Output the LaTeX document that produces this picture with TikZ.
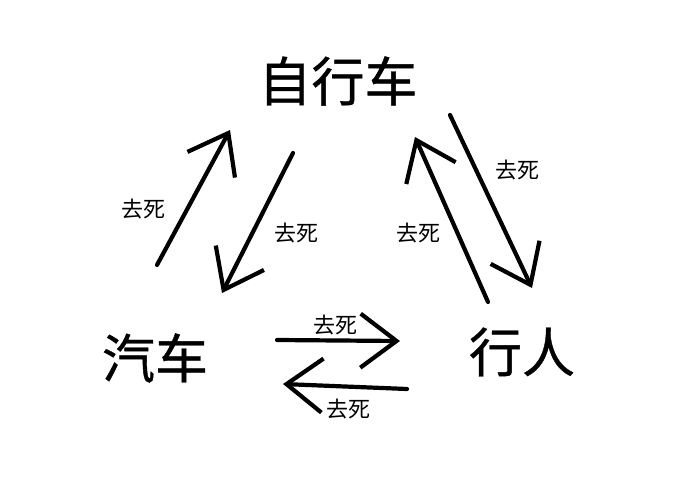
\documentclass[tikz,border=0pt]{standalone}
\usepackage{fontspec}
\setmainfont{Noto Sans CJK SC}
\newfontfamily\namefont{Noto Sans CJK SC}[FakeBold=0.7]
\usetikzlibrary{arrows.meta}

\begin{document}
\begin{tikzpicture}[x=1pt,y=-1pt,
		who/.style={font=\namefont\fontsize{53}{53}\selectfont,inner sep=0pt},
		curse/.style={font=\fontsize{22}{22}\selectfont,inner sep=0pt},
		hit/.style={line width=4.2pt,line cap=round,line join=round,
			-{Straight Barb[length=36pt,width=54pt,line width=4.2pt]}}]
		\useasboundingbox (0,0) rectangle (690,500);
		% the three of them
		\node[who] (bike) at (338,81) {自行车};
		\node[who] (car) at (155,358) {汽车};
		\node[who] (walker) at (522,352) {行人};
		% ends of the arrows
		\coordinate (cb1) at (157,265); \coordinate (cb2) at (230,130);
		\coordinate (bc1) at (293,153); \coordinate (bc2) at (222,293);
		\coordinate (wb1) at (488,302); \coordinate (wb2) at (415,137);
		\coordinate (bw1) at (450,115); \coordinate (bw2) at (532,288);
		\coordinate (cw1) at (277,340); \coordinate (cw2) at (400,341);
		\coordinate (wc1) at (407,389); \coordinate (wc2) at (283,384);
		\draw[hit] (cb1) -- (cb2);
		\draw[hit] (bc1) -- (bc2);
		\draw[hit] (wb1) -- (wb2);
		\draw[hit] (bw1) -- (bw2);
		\draw[hit] (cw1) -- (cw2);
		\draw[hit] (wc1) -- (wc2);
		% labels
		\node[curse] (l1) at (143,209) {去死};
		\node[curse] (l2) at (296,233) {去死};
		\node[curse] (l3) at (418,233) {去死};
		\node[curse] (l4) at (517,170) {去死};
		\node[curse] (l5) at (335,325) {去死};
		\node[curse] (l6) at (348,409) {去死};
	\end{tikzpicture}
\end{document}
